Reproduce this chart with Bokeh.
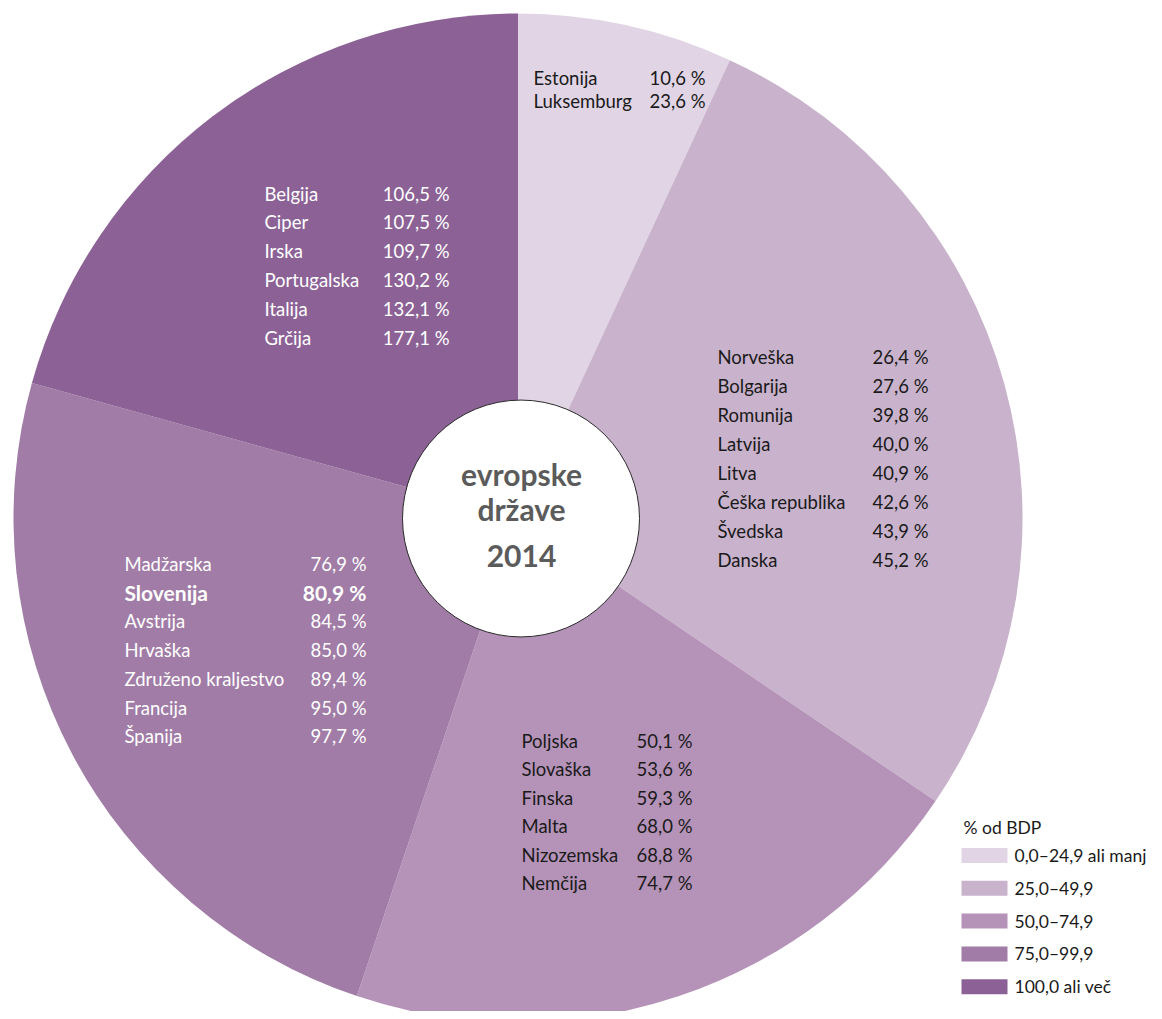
from bokeh.plotting import figure
from bokeh.models import Range1d, ColumnDataSource
from bokeh.core.properties import value
from bokeh.embed import file_html
from bokeh.resources import INLINE

# ---------------- data ----------------
names_a = ["Estonija", "Luksemburg"]
vals_a = [10.6, 23.6]
names_b = ["Norveška", "Bolgarija", "Romunija", "Latvija", "Litva",
           "Češka republika", "Švedska", "Danska"]
vals_b = [26.4, 27.6, 39.8, 40.0, 40.9, 42.6, 43.9, 45.2]
names_c = ["Poljska", "Slovaška", "Finska", "Malta", "Nizozemska", "Nemčija"]
vals_c = [50.1, 53.6, 59.3, 68.0, 68.8, 74.7]
names_d = ["Madžarska", "Slovenija", "Avstrija", "Hrvaška",
           "Združeno kraljestvo", "Francija", "Španija"]
vals_d = [76.9, 80.9, 84.5, 85.0, 89.4, 95.0, 97.7]
names_e = ["Belgija", "Ciper", "Irska", "Portugalska", "Italija", "Grčija"]
vals_e = [106.5, 107.5, 109.7, 130.2, 132.1, 177.1]

legend_title = "% od BDP"
legend_labels = ["0,0–24,9 ali manj", "25,0–49,9", "50,0–74,9",
                 "75,0–99,9", "100,0 ali več"]
colors = ["#e1d5e5", "#c9b3cc", "#b593b8", "#a07ca6", "#8c6296"]
highlight = "Slovenija"
center_lines = ["evropske", "države", "2014"]

W, H = 1162, 1019
FONT = "Lato"
FS = "18.5px"


def Y(y):
    return H - y


def fmt(v):
    return f"{v:.1f}".replace(".", ",") + " %"


p = figure(width=1154, height=1011, output_backend="svg", toolbar_location=None,
           x_range=Range1d(0, 1154), y_range=Range1d(8, 1019),
           min_border=0, match_aspect=False)
p.axis.visible = False
p.grid.visible = False
p.outline_line_color = None
p.background_fill_color = "white"
p.border_fill_color = "white"

groups = [names_a, names_b, names_c, names_d, names_e]
values_ = [vals_a, vals_b, vals_c, vals_d, vals_e]
counts = [len(g) for g in groups]
total = sum(counts)

cx, cy, R = 517.5, 517.5, 504.5
starts, ends = [], []
cum = 0.0
for c in counts:
    s = cum
    e = cum + c / total * 360.0
    starts.append(90.0 - e)
    ends.append(90.0 - s)
    cum = e

pie = ColumnDataSource(dict(x=[cx] * 5, y=[Y(cy)] * 5, start=starts, end=ends, color=colors))
p.wedge(x="x", y="y", radius=R, start_angle="start", end_angle="end",
        start_angle_units="deg", end_angle_units="deg",
        fill_color="color", line_color=None, source=pie)

# center circle
p.circle(x=[520.5], y=[Y(518)], radius=118.5, fill_color="white",
         line_color="#2a2a2a", line_width=1)
p.text(x=[521] * 3, y=[Y(473), Y(508), Y(555)], text=center_lines,
       text_align="center", text_baseline="middle", text_color="#5b5b5b",
       text_font=value(FONT), text_font_style="bold", text_font_size="30px")

# labels: (name_x, value_right_x, y0, step, color)
layout = [
    (533, 705, 77, 23.0, "#1a1a1a"),
    (717, 928, 356, 29.1, "#1a1a1a"),
    (521, 692, 740, 28.5, "#1a1a1a"),
    (124, 366, 563, 28.8, "#ffffff"),
    (264, 449, 193, 28.8, "#ffffff"),
]
for names, vals, (nx, vx, y0, st, col) in zip(groups, values_, layout):
    ys = [Y(y0 + i * st) for i in range(len(names))]
    norm = [i for i, n in enumerate(names) if n != highlight]
    bold = [i for i, n in enumerate(names) if n == highlight]
    src = ColumnDataSource(dict(
        nx=[nx] * len(norm), vx=[vx] * len(norm), y=[ys[i] for i in norm],
        n=[names[i] for i in norm], v=[fmt(vals[i]) for i in norm]))
    p.text(x="nx", y="y", text="n", source=src, text_align="left",
           text_baseline="middle", text_color=col, text_font=value(FONT),
           text_font_size=FS)
    p.text(x="vx", y="y", text="v", source=src, text_align="right",
           text_baseline="middle", text_color=col, text_font=value(FONT),
           text_font_size=FS)
    if bold:
        srcb = ColumnDataSource(dict(
            nx=[nx] * len(bold), vx=[vx] * len(bold), y=[ys[i] for i in bold],
            n=[names[i] for i in bold], v=[fmt(vals[i]) for i in bold]))
        p.text(x="nx", y="y", text="n", source=srcb, text_align="left",
               text_baseline="middle", text_color=col, text_font=value(FONT),
               text_font_style="bold", text_font_size="21px")
        p.text(x="vx", y="y", text="v", source=srcb, text_align="right",
               text_baseline="middle", text_color=col, text_font=value(FONT),
               text_font_style="bold", text_font_size="21px")

# legend
p.text(x=[963], y=[Y(827)], text=[legend_title], text_align="left",
       text_baseline="middle", text_color="#1a1a1a", text_font=value(FONT),
       text_font_size="17.5px")
ly = [Y(855 + i * 32.8) for i in range(len(legend_labels))]
leg = ColumnDataSource(dict(x=[984] * 5, tx=[1014] * 5, y=ly,
                            color=colors, label=legend_labels))
p.rect(x="x", y="y", width=46, height=15, fill_color="color", line_color=None,
       source=leg)
p.text(x="tx", y="y", text="label", source=leg, text_align="left",
       text_baseline="middle", text_color="#1a1a1a", text_font=value(FONT),
       text_font_size="17.5px")

open("out.html", "w").write(file_html(p, INLINE))
